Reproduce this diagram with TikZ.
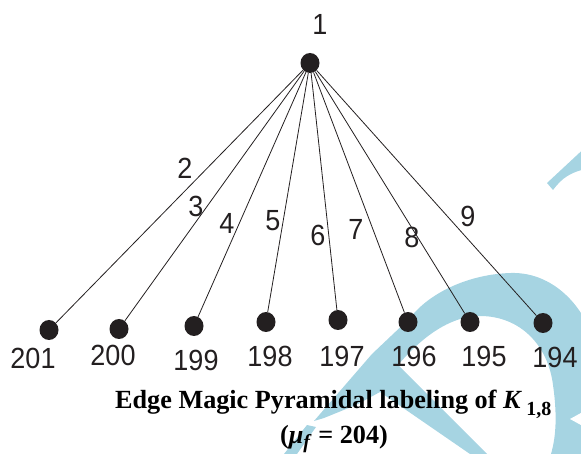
\documentclass[tikz,border=0pt]{standalone}
\usepackage{fontspec}
\setmainfont{Liberation Serif}
\newfontfamily\labfont{Liberation Sans}
\usetikzlibrary{shapes.geometric}
\definecolor{wm}{RGB}{166,212,226}
\definecolor{dotc}{RGB}{35,31,32}
\tikzset{
  dotnode/.style={ellipse,fill=dotc,draw=none,minimum width=19pt,minimum height=20pt,inner sep=0pt},
  lab/.style={inner sep=0pt,text=dotc,font=\labfont\fontsize{27}{27}\selectfont},
  edge/.style={draw=dotc,line width=0.8pt},
  captext/.style={inner sep=0pt,font=\bfseries\fontsize{26.2}{27}\selectfont}
}
\newcommand{\vs}[1]{\scalebox{1}[1.08]{#1}}
\begin{document}
\begin{tikzpicture}[x=1pt,y=-1pt]
\useasboundingbox (0,0) rectangle (581,454);
% watermark
\begin{scope}
\clip (0,0) rectangle (581,454);
\fill[wm] (600,340) -- (590,330) .. controls (575,295) and (545,272) .. (511,273)
  .. controls (470,274) and (430,292) .. (410,318) -- (372,354) -- (314,421)
  -- (324,418) -- (356,405) -- (380,392) -- (470,454) -- (487,454) -- (398,365)
  .. controls (415,345) and (445,316) .. (480,316)
  .. controls (520,316) and (548,345) .. (553,385)
  .. controls (558,420) and (555,440) .. (551,454) -- (600,454) -- cycle;
\fill[wm] (307,425) -- (316,427) -- (297,454) -- (284,454) -- cycle;
\fill[white] (570,419) -- (590,408) -- (590,430) -- cycle;
\fill[wm] (547,183) -- (590,143) -- (590,168) .. controls (570,172) and (562,178) .. (553,190) -- cycle;
\end{scope}
% top vertex
\node[dotnode] (v1) at (310,63) {};
\node[lab] (t1) at (320,24) {\vs{1}};
% bottom vertices
\node[dotnode] (b201) at (49,330) {};
\node[dotnode] (b200) at (119,329) {};
\node[dotnode] (b199) at (194,326) {};
\node[dotnode] (b198) at (266,322) {};
\node[dotnode] (b197) at (338,320) {};
\node[dotnode] (b196) at (408,322) {};
\node[dotnode] (b195) at (470,322) {};
\node[dotnode] (b194) at (543,323) {};
% edges
\foreach \b in {201,200,199,198,197,196,195,194}
  \draw[edge] (v1) -- (b\b);
% vertex labels
\node[lab] (l201) at (33,358) {\vs{201}};
\node[lab] (l200) at (113,355) {\vs{200}};
\node[lab] (l199) at (196,360) {\vs{199}};
\node[lab] (l198) at (270,356) {\vs{198}};
\node[lab] (l197) at (342,356) {\vs{197}};
\node[lab] (l196) at (414,356) {\vs{196}};
\node[lab] (l195) at (484,356) {\vs{195}};
\node[lab] (l194) at (555,357) {\vs{194}};
% edge labels
\node[lab] (e2) at (185,168) {\vs{2}};
\node[lab] (e3) at (196,206) {\vs{3}};
\node[lab] (e4) at (227,223) {\vs{4}};
\node[lab] (e5) at (273,221) {\vs{5}};
\node[lab] (e6) at (318,235) {\vs{6}};
\node[lab] (e7) at (356,229) {\vs{7}};
\node[lab] (e8) at (412,237) {\vs{8}};
\node[lab] (e9) at (468,216) {\vs{9}};
% caption
\node[captext,anchor=base west] (c1) at (115,408) {Edge Magic Pyramidal labeling of \textit{K}\,\raisebox{-7pt}{\fontsize{20}{20}\selectfont 1,8}};
\node[captext,anchor=base west] (c2) at (280,443) {(\textit{μ}\raisebox{-5pt}{\fontsize{20}{20}\selectfont\textit{f}} = 204)};
\end{tikzpicture}
\end{document}
